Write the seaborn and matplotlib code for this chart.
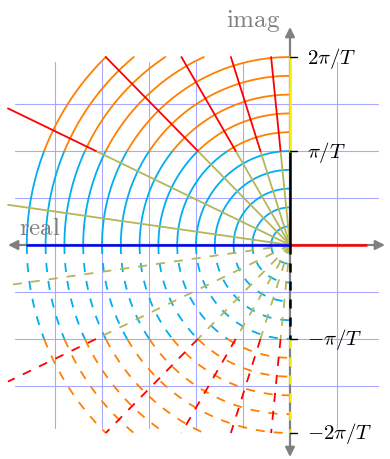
import numpy as np
import pandas as pd
import matplotlib
matplotlib.use("Agg")
import matplotlib.pyplot as plt
import seaborn as sns

# Sampling period (normalised) and the frequency bands that colour the grid
T = 1.0
w_s = np.pi / T                    # half the sampling frequency

# Natural-frequency circles, in steps of pi/(5T)
wn_steps = [1, 2, 3, 4, 5, 6, 7, 8, 9, 10, 11, 12, 13, 14]
wn_unit = np.pi / (5 * T)

# Damping-ratio rays
zeta = [0.1, 0.3, 0.5, 0.7, 0.9, 0.99]

# Imaginary-axis tick values (multiples of pi/T) and their labels
tick_mult = [2, 1, -1, -2]
tick_labels = [r"$2\pi/T$", r"$\pi/T$", r"$-\pi/T$", r"$-2\pi/T$"]

# Colours
c_low = "#00aeef"     # |w| < pi/T
c_high = "#ff8000"    # pi/T < |w| < 2pi/T
c_ray_low = "#b5b55a"
c_ray_high = "#ff0000"
c_grid = "#a8a8ff"
c_axis = "#808080"

sns.set_style("white")
plt.rcParams["mathtext.fontset"] = "cm"

px = 94 / np.pi                    # pixels per data unit
fig = plt.figure(figsize=(3.9, 4.6), dpi=100)
ax = fig.add_axes([0, 0, 1, 1])
ax.set_xlim(-290 / px, 100 / px)
ax.set_ylim(-214 / px, 246 / px)
ax.set_axis_off()

lw = 1.3
dash = (0, (5.0, 5.0))


def draw(xs, ys, color, lower, z, width=lw):
    ls = dash if lower else "-"
    sns.lineplot(x=xs, y=(-np.asarray(ys) if lower else ys), sort=False,
                 estimator=None, color=color, lw=width, ax=ax, legend=False,
                 linestyle=ls, zorder=z)


# help-line grid, step pi/(2T)
g = np.pi / 2
for k in range(-5, 2):
    if k == 0:
        continue
    ax.plot([k * g, k * g], [-3.89 * g, 3.89 * g], color=c_grid, lw=0.8, zorder=1)
for k in range(-3, 4):
    if k == 0:
        continue
    ax.plot([-5.85 * g, 1.87 * g], [k * g, k * g], color=c_grid, lw=0.8, zorder=1)

# constant natural-frequency arcs in the left half-plane,
# traced from the real axis upwards
for lower in (False, True):
    for n in wn_steps:
        r = n * wn_unit
        y_low_top = min(r, w_s)
        yy = np.linspace(0, y_low_top, 300)
        xx = -np.sqrt(np.maximum(r ** 2 - yy ** 2, 0))
        draw(xx, yy, c_low, lower, 2)
        if r > w_s:
            yy = np.linspace(w_s, min(r, 2 * w_s), 300)
            xx = -np.sqrt(np.maximum(r ** 2 - yy ** 2, 0))
            draw(xx, yy, c_high, lower, 2)

# constant damping-ratio rays, clipped at Re = -3pi/T and |Im| = 2pi/T
x_min = -3 * w_s
for lower in (False, True):
    for z in zeta:
        dx, dy = -z, np.sqrt(1 - z ** 2)
        t_end = min(x_min / dx, 2 * w_s / dy)
        t_mid = min(w_s / dy, t_end)
        draw([0, dx * t_mid], [0, dy * t_mid], c_ray_low, lower, 3)
        if t_end > t_mid:
            draw([dx * t_mid, dx * t_end], [dy * t_mid, dy * t_end],
                 c_ray_high, lower, 3)

# axes with arrow heads
ax.annotate("", xy=(-282 / px, 0), xytext=(95 / px, 0),
            arrowprops=dict(arrowstyle="<|-|>", color=c_axis, lw=1.6,
                            mutation_scale=14, shrinkA=0, shrinkB=0), zorder=4)
ax.annotate("", xy=(0, 218 / px), xytext=(0, -212 / px),
            arrowprops=dict(arrowstyle="<|-|>", color=c_axis, lw=1.6,
                            mutation_scale=14, shrinkA=0, shrinkB=0), zorder=4)

# real axis: stable part blue, unstable part red
r_max = max(wn_steps) * wn_unit
ax.plot([-r_max, 0], [0, 0], color="#0000ff", lw=1.8, zorder=5)
ax.plot([0, 0.81 * w_s], [0, 0], color="#ff0000", lw=1.8, zorder=5)

# imaginary axis bands
ax.plot([0, 0], [0, w_s], color="black", lw=1.8, zorder=5)
ax.plot([0, 0], [w_s, 2 * w_s], color="#ffee00", lw=1.8, zorder=5)
ax.plot([0, 0], [0, -w_s], color="black", lw=1.8, zorder=5,
        linestyle=(0, (3.6, 3.6)))
ax.plot([0, 0], [-w_s, -2 * w_s], color="#ffee00", lw=1.8, zorder=5,
        linestyle=(0, (3.6, 3.6)))

# ticks and labels
for m, lab in zip(tick_mult, tick_labels):
    yv = m * w_s
    ax.plot([0, 7 / px], [yv, yv], color="black", lw=1.0, zorder=6)
    ax.text(17 / px, yv, lab, fontsize=15, ha="left", va="center",
            color="black", zorder=6)

ax.text(-37 / px, 219 / px, r"$\mathrm{imag}$", fontsize=18, color=c_axis,
        ha="center", va="baseline")
ax.text(-250 / px, 11 / px, r"$\mathrm{real}$", fontsize=18, color=c_axis,
        ha="center", va="baseline")

fig.savefig("out.png", dpi=100)
